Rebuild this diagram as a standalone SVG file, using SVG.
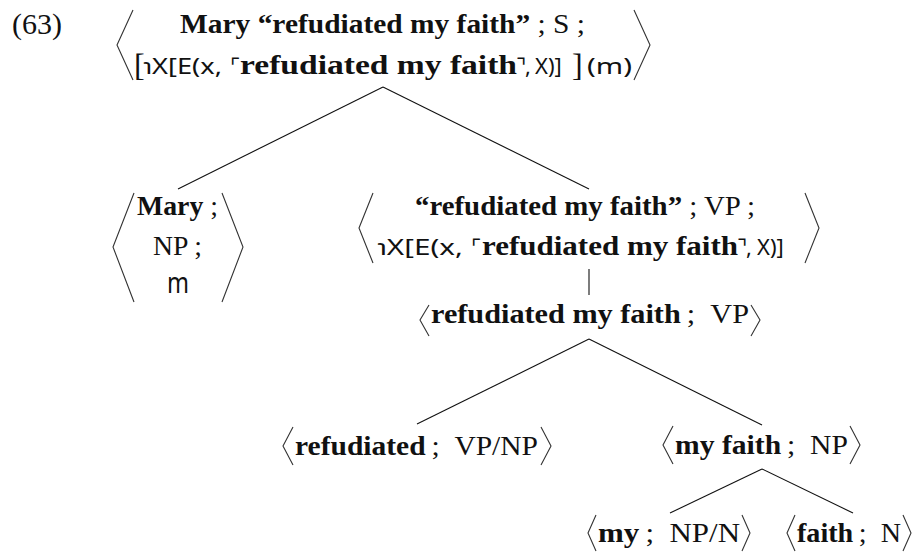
<svg xmlns="http://www.w3.org/2000/svg" width="918" height="552" viewBox="0 0 918 552">
  <defs>
    <style>
      text { fill: #111; }
      .rm { font-family: "Liberation Serif", "Times New Roman", serif; font-size: 28px; }
      .bf { font-family: "Liberation Serif", "Times New Roman", serif; font-size: 28px; font-weight: bold; }
      .sf { font-family: "Noto Sans", "DejaVu Sans", sans-serif; font-size: 22px; }
      .cq { font-family: "DejaVu Sans", sans-serif; font-size: 22px; }
      .big { font-family: "Liberation Serif", serif; font-size: 32px; }
      .b { font-weight: bold; }
      .br { fill: none; stroke: #333; stroke-width: 1.1; stroke-linejoin: miter; }
      .edge { fill: none; stroke: #111; stroke-width: 1.1; }
    </style>
  </defs>
  <rect width="918" height="552" fill="#fff"/>

  <text class="rm" x="12" y="34" style="font-size:30px">(63)</text>

  <!-- root: S -->
  <g id="node-s">
    <polyline class="br" points="133,10 117,45 133,80"/>
    <polyline class="br" points="634,10 650,45 634,80"/>
    <text class="rm" x="180" y="33" textLength="405" lengthAdjust="spacingAndGlyphs"><tspan class="b">Mary “refudiated my faith”</tspan> ; S ;</text>
    <text class="big" x="134" y="76">[</text>
    <text class="sf" x="143" y="74" textLength="79" lengthAdjust="spacingAndGlyphs">℩X[E(x,</text>
    <text class="cq" x="230" y="74">⌜</text>
    <text class="bf" x="240" y="74" textLength="277" lengthAdjust="spacingAndGlyphs">refudiated my faith</text>
    <text class="cq" x="516" y="74">⌝</text>
    <text class="sf" x="525" y="74">,</text>
    <text class="sf" x="535" y="74">X)]</text>
    <text class="big" x="572" y="76">]</text>
    <text class="sf" x="587" y="74" textLength="45" lengthAdjust="spacingAndGlyphs">(m)</text>
  </g>

  <!-- subject NP -->
  <g id="node-mary">
    <polyline class="br" points="134,193 113,247 134,302"/>
    <polyline class="br" points="222,193 243,247 222,302"/>
    <text class="rm" x="137" y="215" textLength="81" lengthAdjust="spacingAndGlyphs"><tspan class="b">Mary</tspan> ;</text>
    <text class="rm" x="153" y="255" textLength="49" lengthAdjust="spacingAndGlyphs">NP ;</text>
    <text class="sf" x="167" y="293" style="font-size:29px" textLength="22" lengthAdjust="spacingAndGlyphs">m</text>
  </g>

  <!-- quoted VP -->
  <g id="node-vp-quote">
    <polyline class="br" points="373,193 359,228 373,263"/>
    <polyline class="br" points="805,193 819,228 805,263"/>
    <text class="rm" x="415" y="215" textLength="340" lengthAdjust="spacingAndGlyphs"><tspan class="b">“refudiated my faith”</tspan> ; VP ;</text>
    <text class="sf" x="377" y="255" textLength="86" lengthAdjust="spacingAndGlyphs">℩X[E(x,</text>
    <text class="cq" x="471" y="255">⌜</text>
    <text class="bf" x="482" y="255" textLength="256" lengthAdjust="spacingAndGlyphs">refudiated my faith</text>
    <text class="cq" x="737" y="255">⌝</text>
    <text class="sf" x="746" y="255">,</text>
    <text class="sf" x="757" y="255">X)]</text>
  </g>

  <!-- VP -->
  <g id="node-vp">
    <polyline class="br" points="429,305 420,320 429,336"/>
    <polyline class="br" points="751,305 760,320 751,336"/>
    <text class="rm" x="431" y="323" textLength="318" lengthAdjust="spacingAndGlyphs"><tspan class="b">refudiated my faith</tspan>&#8201;;&#8194;VP</text>
  </g>

  <!-- VP/NP -->
  <g id="node-refudiated">
    <polyline class="br" points="293,427 283,446 293,465"/>
    <polyline class="br" points="541,427 551,446 541,465"/>
    <text class="rm" x="295" y="455" textLength="243" lengthAdjust="spacingAndGlyphs"><tspan class="b">refudiated</tspan>&#8201;;&#8194;VP/NP</text>
  </g>

  <!-- object NP -->
  <g id="node-myfaith">
    <polyline class="br" points="673,426 663,445 673,464"/>
    <polyline class="br" points="850,426 860,445 850,464"/>
    <text class="rm" x="675" y="454" textLength="173" lengthAdjust="spacingAndGlyphs"><tspan class="b">my faith</tspan>&#8201;;&#8194;NP</text>
  </g>

  <!-- NP/N -->
  <g id="node-my">
    <polyline class="br" points="596,515 588,533 596,551"/>
    <polyline class="br" points="742,515 750,533 742,551"/>
    <text class="rm" x="598" y="542" textLength="142" lengthAdjust="spacingAndGlyphs"><tspan class="b">my</tspan>&#8201;;&#8194;NP/N</text>
  </g>

  <!-- N -->
  <g id="node-faith">
    <polyline class="br" points="795,515 787,533 795,551"/>
    <polyline class="br" points="903,515 911,533 903,551"/>
    <text class="rm" x="797" y="542" textLength="104" lengthAdjust="spacingAndGlyphs"><tspan class="b">faith</tspan>&#8201;;&#8194;N</text>
  </g>

  <g id="edges">
    <line class="edge" x1="383" y1="87" x2="178" y2="189"/>
    <line class="edge" x1="383" y1="87" x2="589" y2="189"/>
    <line class="edge" x1="589" y1="269" x2="589" y2="295"/>
    <line class="edge" x1="589" y1="339" x2="417" y2="424"/>
    <line class="edge" x1="589" y1="339" x2="762" y2="425"/>
    <line class="edge" x1="762" y1="469" x2="670" y2="513"/>
    <line class="edge" x1="762" y1="469" x2="853" y2="513"/>
  </g>
</svg>
